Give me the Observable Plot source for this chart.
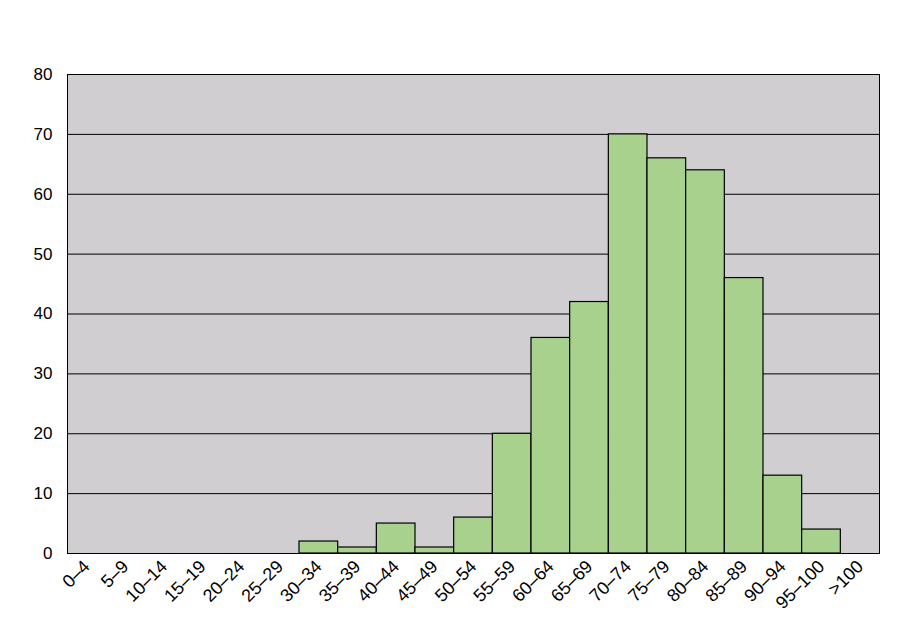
<!DOCTYPE html>
<html><head><meta charset="utf-8">
<script src="https://cdn.jsdelivr.net/npm/d3@7"></script>
<script src="https://cdn.jsdelivr.net/npm/@observablehq/plot@0.6"></script>
<style>
body{margin:0;background:#fff;font-family:Arial,"Liberation Sans",sans-serif;}
</style>
</head><body><div id="chart"></div>
<script>
const categories = ["0–4","5–9","10–14","15–19","20–24","25–29","30–34","35–39","40–44","45–49","50–54","55–59","60–64","65–69","70–74","75–79","80–84","85–89","90–94","95–100",">100"];
const counts = [0,0,0,0,0,0,2,1,5,1,6,20,36,42,70,66,64,46,13,4,0];
const yTicks = [0,10,20,30,40,50,60,70,80];
const data = categories.map((c,i)=>({cat:c, n:counts[i]}));
const font = "Arial, 'Liberation Sans', sans-serif";
const chart = Plot.plot({
  width: 920, height: 640,
  marginLeft: 67, marginRight: 41, marginTop: 74, marginBottom: 87,
  style: {fontFamily: font, fontSize: "16px", color: "#000", background: "#fff"},
  x: {domain: categories, padding: 0, round: false, label: null},
  y: {domain: [0,80], label: null},
  marks: [
    Plot.frame({fill: "#D0CED0"}),
    Plot.gridY(yTicks, {stroke: "#000", strokeOpacity: 1, strokeWidth: 1}),
    Plot.barY(data.filter(d=>d.n>0), {x: "cat", y: "n", fill: "#A9D18E", stroke: "#000", strokeWidth: 1.2}),
    Plot.frame({stroke: "#000", strokeWidth: 1}),
    Plot.axisY(yTicks, {tickSize: 0, tickPadding: 15, fontSize: 17, label: null}),
    Plot.axisX({tickSize: 0, tickRotate: -45, tickPadding: 10, fontSize: 18, label: null})
  ]
});
document.getElementById("chart").appendChild(chart);
</script></body></html>
